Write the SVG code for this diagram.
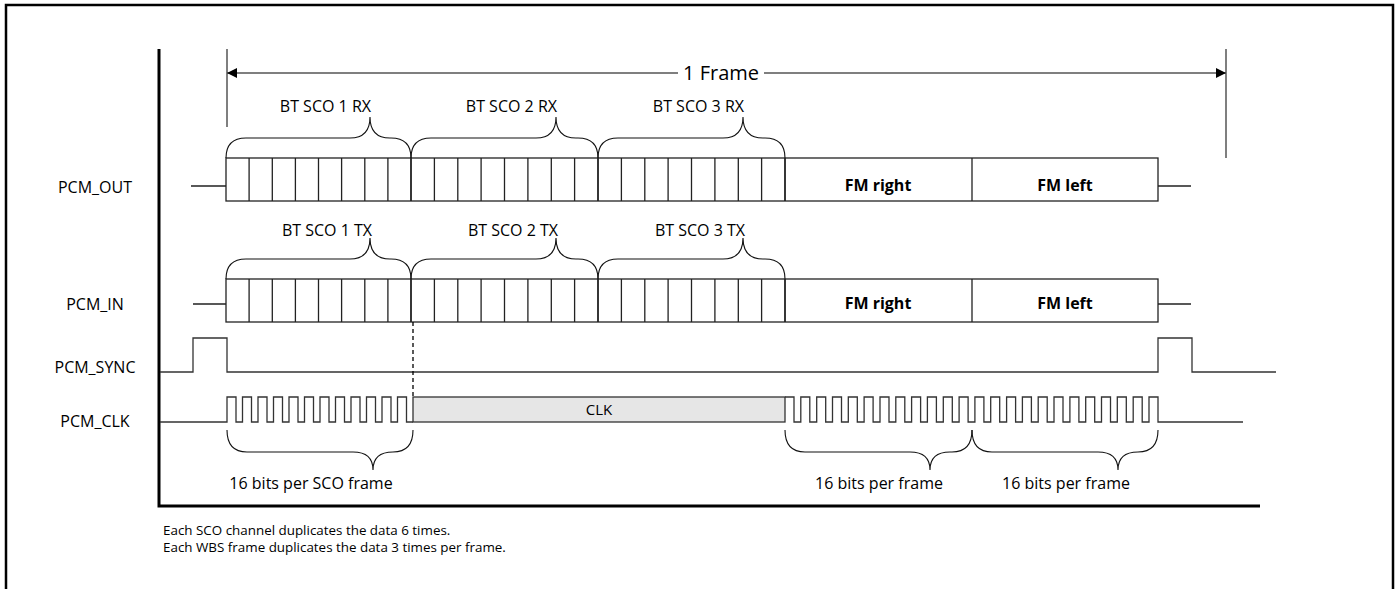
<svg xmlns="http://www.w3.org/2000/svg" width="1398" height="589" viewBox="0 0 1398 589">
<style>
text{font-family:"Open Sans","Liberation Sans",sans-serif;fill:#000}
.lbl{font-size:16px}
.sig{font-size:16px;text-anchor:middle}
.bold{font-size:16px;font-weight:bold;text-anchor:middle}
.note{font-size:13.4px}
.box{fill:#fff;stroke:#222;stroke-width:1.3}
.ln{fill:none;stroke:#222;stroke-width:1.3}
.wave{fill:none;stroke:#333;stroke-width:1.3}
.brace{fill:none;stroke:#111;stroke-width:1.1}
.axis{stroke:#000;stroke-width:3;fill:none}
.tick{stroke:#555;stroke-width:1.5}
</style>
<defs>
<marker id="ah" viewBox="0 0 10 10" refX="10" refY="5" markerWidth="10" markerHeight="10" markerUnits="userSpaceOnUse" orient="auto-start-reverse">
<path d="M0,0 L10,5 L0,10 z" fill="#000"/>
</marker>
<g id="cells" class="ln">
<path d="M249.1 0V43M272.3 0V43M295.4 0V43M318.5 0V43M341.6 0V43M364.8 0V43M387.9 0V43M434.4 0V43M457.8 0V43M481.1 0V43M504.5 0V43M527.9 0V43M551.3 0V43M574.6 0V43M621.4 0V43M644.8 0V43M668.1 0V43M691.5 0V43M714.9 0V43M738.3 0V43M761.6 0V43M972 0V43"/>
<path d="M411 0V43M598 0V43M785 0V43" stroke-width="1.8"/>
</g>
</defs>

<rect x="6" y="5" width="1387" height="620" fill="#fff" stroke="#000" stroke-width="2.5"/>

<g id="axes">
<path class="axis" d="M159 49V506H1260"/>
</g>

<g id="frame">
<path class="tick" d="M227 49V127M1226 49V158"/>
<line x1="227" y1="73" x2="1226" y2="73" stroke="#555" stroke-width="1.5" marker-start="url(#ah)" marker-end="url(#ah)"/>
<rect x="678" y="61" width="86" height="24" fill="#fff"/>
<text x="721" y="80" font-size="20" text-anchor="middle">1 Frame</text>
</g>

<g id="labels">
<text class="sig" x="95" y="193">PCM_OUT</text>
<text class="sig" x="95" y="310">PCM_IN</text>
<text class="sig" x="95" y="373">PCM_SYNC</text>
<text class="sig" x="95" y="427">PCM_CLK</text>
</g>

<g id="pcm_out">
<path class="ln" d="M191 186H226M1158 186H1191"/>
<rect class="box" x="226" y="158" width="932" height="43"/>
<use href="#cells" transform="translate(0,158)"/>
<text class="bold" x="878" y="191">FM right</text>
<text class="bold" x="1065" y="191">FM left</text>
</g>

<g id="pcm_in">
<path class="ln" d="M193 304H226M1158 304H1191"/>
<rect class="box" x="226" y="279" width="932" height="43"/>
<use href="#cells" transform="translate(0,279)"/>
<text class="bold" x="878" y="309">FM right</text>
<text class="bold" x="1065" y="309">FM left</text>
</g>

<g id="pcm_sync">
<path class="wave" d="M160 372H193V338H227V372H1158V338H1192V372H1276"/>
</g>

<g id="pcm_clk">
<path class="wave" d="M160 422H227V397H236V422H242.5V397H251.5V422H258V397H267V422H273.5V397H282.5V422H289V397H298V422H304.5V397H313.5V422H320V397H329V422H335.5V397H344.5V422H351V397H360V422H366.5V397H375.5V422H382V397H391V422H397.5V397H406.5V422H413"/>
<rect x="413" y="397" width="372" height="25" fill="#e6e6e6" stroke="#333" stroke-width="1.3"/>
<text x="599" y="415" font-size="15" text-anchor="middle">CLK</text>
<path class="wave" d="M785 397H794V422H800.8V397H809.8V422H816.7V397H825.7V422H832.5V397H841.5V422H848.3V397H857.3V422H864.1V397H873.1V422H880V397H889V422H895.8V397H904.8V422H911.6V397H920.6V422H927.4V397H936.4V422H943.3V397H952.3V422H959.1V397H968.1V422H974.9V397H983.9V422H990.7V397H999.7V422H1006.6V397H1015.6V422H1022.4V397H1031.4V422H1038.2V397H1047.2V422H1054V397H1063V422H1069.9V397H1078.9V422H1085.7V397H1094.7V422H1101.5V397H1110.5V422H1117.3V397H1126.3V422H1133.2V397H1142.2V422H1149V397H1158V422H1243"/>
</g>

<g id="connectors">
<line x1="413" y1="322" x2="413" y2="397" stroke="#000" stroke-width="1.3" stroke-dasharray="4,3"/>
<path class="brace" d="M226 158Q226 138 246 138L350 138Q370 138 370 117Q370 138 390 138L391 138Q411 138 411 158"/>
<path class="brace" d="M411 158Q411 138 431 138L536 138Q556 138 556 117Q556 138 576 138L578 138Q598 138 598 158"/>
<path class="brace" d="M598 158Q598 138 618 138L723 138Q743 138 743 117Q743 138 763 138L765 138Q785 138 785 158"/>
<path class="brace" d="M226 279Q226 259 246 259L350 259Q370 259 370 238Q370 259 390 259L391 259Q411 259 411 279"/>
<path class="brace" d="M411 279Q411 259 431 259L536 259Q556 259 556 238Q556 259 576 259L578 259Q598 259 598 279"/>
<path class="brace" d="M598 279Q598 259 618 259L723 259Q743 259 743 238Q743 259 763 259L765 259Q785 259 785 279"/>
<path class="brace" d="M227 430Q227 452 247 452L353 452Q373 452 373 470Q373 452 393 452L393 452Q413 452 413 430"/>
<path class="brace" d="M785 430Q785 452 805 452L910 452Q930 452 930 470Q930 452 950 452L952 452Q972 452 972 430"/>
<path class="brace" d="M972 430Q972 452 992 452L1098 452Q1118 452 1118 470Q1118 452 1138 452L1138 452Q1158 452 1158 430"/>
</g>

<g id="brace_labels">
<text class="lbl" x="371" y="112" text-anchor="end">BT SCO 1 RX</text>
<text class="lbl" x="557" y="112" text-anchor="end">BT SCO 2 RX</text>
<text class="lbl" x="744" y="112" text-anchor="end">BT SCO 3 RX</text>
<text class="lbl" x="372" y="236" text-anchor="end">BT SCO 1 TX</text>
<text class="lbl" x="558" y="236" text-anchor="end">BT SCO 2 TX</text>
<text class="lbl" x="745" y="236" text-anchor="end">BT SCO 3 TX</text>
<text class="lbl" x="311" y="489" text-anchor="middle">16 bits per SCO frame</text>
<text class="lbl" x="879" y="489" text-anchor="middle">16 bits per frame</text>
<text class="lbl" x="1066" y="489" text-anchor="middle">16 bits per frame</text>
</g>

<g id="notes">
<text class="note" x="163" y="535">Each SCO channel duplicates the data 6 times.</text>
<text class="note" x="163" y="552">Each WBS frame duplicates the data 3 times per frame.</text>
</g>
</svg>
